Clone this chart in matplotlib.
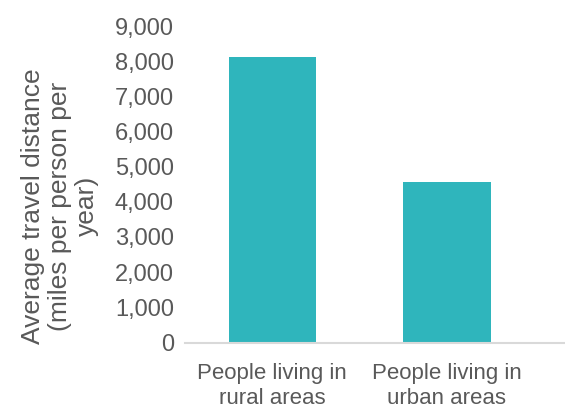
import matplotlib.pyplot as plt
from matplotlib.ticker import FuncFormatter

# Данные
categories = ['People living in\nrural areas', 'People living in\nurban areas']
distance = [8130, 4550]
y_ticks = [0, 1000, 2000, 3000, 4000, 5000, 6000, 7000, 8000, 9000]

plt.rcParams['font.family'] = ['Liberation Sans', 'DejaVu Sans']

fig = plt.figure(figsize=(5.65, 4.08), dpi=100)
ax = fig.add_axes([185 / 565, 65.5 / 408, 379 / 565, 316.5 / 408])

x = range(len(categories))
ax.bar(x, distance, width=0.5, color='#2fb5bc')

ax.set_xlim(-0.5, 1.67)
ax.set_ylim(0, 9000)
ax.set_yticks(y_ticks)
ax.yaxis.set_major_formatter(FuncFormatter(lambda v, p: f'{int(v):,}'))
ax.set_xticks(list(x))
ax.set_xticklabels(categories, linespacing=1.2, fontsize=16)

for s in ['top', 'right', 'left']:
    ax.spines[s].set_visible(False)
ax.spines['bottom'].set_color('#d9d9d9')
ax.spines['bottom'].set_linewidth(1.5)

ax.tick_params(axis='both', length=0, colors='#595959')
ax.tick_params(axis='y', pad=8, labelsize=17)
ax.tick_params(axis='x', pad=15)

ax.set_ylabel('Average travel distance\n(miles per person per\nyear)',
              fontsize=19, color='#595959', linespacing=1.15)
ax.yaxis.set_label_coords(-0.227, 0.431)

fig.savefig('out.png', dpi=100)
